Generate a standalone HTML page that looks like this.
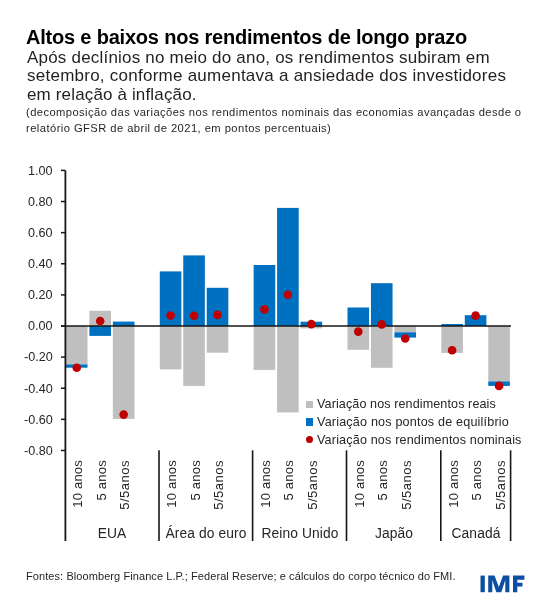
<!DOCTYPE html>
<html><head><meta charset="utf-8"><style>
html,body{margin:0;padding:0;background:#fff;}
body{width:550px;height:602px;position:relative;overflow:hidden;font-family:"Liberation Sans",sans-serif;color:#231f20;}
.t{position:absolute;white-space:nowrap;line-height:1;will-change:transform;}
svg{position:absolute;left:0;top:0;}
</style></head><body>
<div class="t" style="left:26px;top:26.70px;font-size:20px;font-weight:bold;letter-spacing:-0.2px;color:#000;">Altos e baixos nos rendimentos de longo prazo</div>
<div class="t" style="left:26.5px;top:48.55px;font-size:17px;letter-spacing:0.2px;">Após declínios no meio do ano, os rendimentos subiram em</div>
<div class="t" style="left:26.5px;top:66.95px;font-size:17px;letter-spacing:0.25px;">setembro, conforme aumentava a ansiedade dos investidores</div>
<div class="t" style="left:26.5px;top:85.65px;font-size:17px;letter-spacing:0.15px;">em relação à inflação.</div>
<div class="t" style="left:26px;top:107.18px;font-size:11.2px;letter-spacing:0.42px;">(decomposição das variações nos rendimentos nominais das economias avançadas desde o</div>
<div class="t" style="left:26px;top:123.08px;font-size:11.2px;letter-spacing:0.44px;">relatório GFSR de abril de 2021, em pontos percentuais)</div>
<div class="t" style="right:497.7px;top:164.69px;font-size:12.6px;color:#262626">1.00</div>
<div class="t" style="right:497.7px;top:195.81px;font-size:12.6px;color:#262626">0.80</div>
<div class="t" style="right:497.7px;top:226.93px;font-size:12.6px;color:#262626">0.60</div>
<div class="t" style="right:497.7px;top:258.05px;font-size:12.6px;color:#262626">0.40</div>
<div class="t" style="right:497.7px;top:289.17px;font-size:12.6px;color:#262626">0.20</div>
<div class="t" style="right:497.7px;top:320.29px;font-size:12.6px;color:#262626">0.00</div>
<div class="t" style="right:497.7px;top:351.41px;font-size:12.6px;color:#262626">-0.20</div>
<div class="t" style="right:497.7px;top:382.53px;font-size:12.6px;color:#262626">-0.40</div>
<div class="t" style="right:497.7px;top:413.65px;font-size:12.6px;color:#262626">-0.60</div>
<div class="t" style="right:497.7px;top:444.77px;font-size:12.6px;color:#262626">-0.80</div>
<svg width="550" height="602" viewBox="0 0 550 602"><rect x="65.93" y="326.00" width="21.6" height="38.40" fill="#BFBFBF"/><rect x="65.93" y="364.40" width="21.6" height="3.30" fill="#0070C0"/><rect x="89.39" y="310.80" width="21.6" height="15.20" fill="#BFBFBF"/><rect x="89.39" y="326.00" width="21.6" height="9.90" fill="#0070C0"/><rect x="112.86" y="321.60" width="21.6" height="4.40" fill="#0070C0"/><rect x="112.86" y="326.00" width="21.6" height="92.90" fill="#BFBFBF"/><rect x="159.78" y="271.40" width="21.6" height="54.60" fill="#0070C0"/><rect x="159.78" y="326.00" width="21.6" height="43.40" fill="#BFBFBF"/><rect x="183.25" y="255.40" width="21.6" height="70.60" fill="#0070C0"/><rect x="183.25" y="326.00" width="21.6" height="59.90" fill="#BFBFBF"/><rect x="206.71" y="287.80" width="21.6" height="38.20" fill="#0070C0"/><rect x="206.71" y="326.00" width="21.6" height="26.70" fill="#BFBFBF"/><rect x="253.64" y="265.00" width="21.6" height="61.00" fill="#0070C0"/><rect x="253.64" y="326.00" width="21.6" height="43.90" fill="#BFBFBF"/><rect x="277.10" y="207.90" width="21.6" height="118.10" fill="#0070C0"/><rect x="277.10" y="326.00" width="21.6" height="86.40" fill="#BFBFBF"/><rect x="300.56" y="321.70" width="21.6" height="4.30" fill="#0070C0"/><rect x="300.56" y="326.00" width="21.6" height="2.40" fill="#BFBFBF"/><rect x="347.49" y="307.50" width="21.6" height="18.50" fill="#0070C0"/><rect x="347.49" y="326.00" width="21.6" height="23.80" fill="#BFBFBF"/><rect x="370.95" y="283.20" width="21.6" height="42.80" fill="#0070C0"/><rect x="370.95" y="326.00" width="21.6" height="41.80" fill="#BFBFBF"/><rect x="394.41" y="326.00" width="21.6" height="6.30" fill="#BFBFBF"/><rect x="394.41" y="332.30" width="21.6" height="5.30" fill="#0070C0"/><rect x="441.34" y="324.00" width="21.6" height="2.00" fill="#0070C0"/><rect x="441.34" y="326.00" width="21.6" height="26.90" fill="#BFBFBF"/><rect x="464.80" y="315.20" width="21.6" height="10.80" fill="#0070C0"/><rect x="488.27" y="326.00" width="21.6" height="55.40" fill="#BFBFBF"/><rect x="488.27" y="381.40" width="21.6" height="4.50" fill="#0070C0"/><line x1="61" y1="326.0" x2="511" y2="326.0" stroke="#161616" stroke-width="1.6"/><circle cx="76.73" cy="367.70" r="4.3" fill="#C00000"/><circle cx="100.19" cy="321.00" r="4.3" fill="#C00000"/><circle cx="123.66" cy="414.60" r="4.3" fill="#C00000"/><circle cx="170.58" cy="315.50" r="4.3" fill="#C00000"/><circle cx="194.05" cy="315.70" r="4.3" fill="#C00000"/><circle cx="217.51" cy="314.90" r="4.3" fill="#C00000"/><circle cx="264.44" cy="309.40" r="4.3" fill="#C00000"/><circle cx="287.90" cy="294.70" r="4.3" fill="#C00000"/><circle cx="311.36" cy="324.10" r="4.3" fill="#C00000"/><circle cx="358.29" cy="331.60" r="4.3" fill="#C00000"/><circle cx="381.75" cy="324.40" r="4.3" fill="#C00000"/><circle cx="405.21" cy="338.50" r="4.3" fill="#C00000"/><circle cx="452.14" cy="350.30" r="4.3" fill="#C00000"/><circle cx="475.60" cy="315.60" r="4.3" fill="#C00000"/><circle cx="499.07" cy="385.90" r="4.3" fill="#C00000"/><line x1="65.4" y1="170.4" x2="65.4" y2="541" stroke="#161616" stroke-width="1.8"/><line x1="61" y1="170.40" x2="65.4" y2="170.40" stroke="#161616" stroke-width="1.5"/><line x1="61" y1="201.52" x2="65.4" y2="201.52" stroke="#161616" stroke-width="1.5"/><line x1="61" y1="232.64" x2="65.4" y2="232.64" stroke="#161616" stroke-width="1.5"/><line x1="61" y1="263.76" x2="65.4" y2="263.76" stroke="#161616" stroke-width="1.5"/><line x1="61" y1="294.88" x2="65.4" y2="294.88" stroke="#161616" stroke-width="1.5"/><line x1="61" y1="326.00" x2="65.4" y2="326.00" stroke="#161616" stroke-width="1.5"/><line x1="61" y1="357.12" x2="65.4" y2="357.12" stroke="#161616" stroke-width="1.5"/><line x1="61" y1="388.24" x2="65.4" y2="388.24" stroke="#161616" stroke-width="1.5"/><line x1="61" y1="419.36" x2="65.4" y2="419.36" stroke="#161616" stroke-width="1.5"/><line x1="61" y1="450.48" x2="65.4" y2="450.48" stroke="#161616" stroke-width="1.5"/><line x1="159.0" y1="450.3" x2="159.0" y2="541" stroke="#161616" stroke-width="1.6"/><line x1="252.6" y1="450.3" x2="252.6" y2="541" stroke="#161616" stroke-width="1.6"/><line x1="346.5" y1="450.3" x2="346.5" y2="541" stroke="#161616" stroke-width="1.6"/><line x1="440.8" y1="450.3" x2="440.8" y2="541" stroke="#161616" stroke-width="1.6"/><line x1="510.6" y1="450.3" x2="510.6" y2="541" stroke="#161616" stroke-width="1.6"/></svg>
<div class="t" style="left:71px;top:520px;width:60px;height:14px;line-height:14px;text-align:right;font-size:13px;color:#262626;transform:rotate(-90deg);transform-origin:0 0;letter-spacing:0.2px">10 anos</div>
<div class="t" style="left:95px;top:520px;width:60px;height:14px;line-height:14px;text-align:right;font-size:13px;color:#262626;transform:rotate(-90deg);transform-origin:0 0;letter-spacing:0.25px">5 anos</div>
<div class="t" style="left:118px;top:520px;width:60px;height:14px;line-height:14px;text-align:right;font-size:13px;color:#262626;transform:rotate(-90deg);transform-origin:0 0;letter-spacing:0.5px">5/5anos</div>
<div class="t" style="left:165px;top:520px;width:60px;height:14px;line-height:14px;text-align:right;font-size:13px;color:#262626;transform:rotate(-90deg);transform-origin:0 0;letter-spacing:0.2px">10 anos</div>
<div class="t" style="left:189px;top:520px;width:60px;height:14px;line-height:14px;text-align:right;font-size:13px;color:#262626;transform:rotate(-90deg);transform-origin:0 0;letter-spacing:0.25px">5 anos</div>
<div class="t" style="left:212px;top:520px;width:60px;height:14px;line-height:14px;text-align:right;font-size:13px;color:#262626;transform:rotate(-90deg);transform-origin:0 0;letter-spacing:0.5px">5/5anos</div>
<div class="t" style="left:259px;top:520px;width:60px;height:14px;line-height:14px;text-align:right;font-size:13px;color:#262626;transform:rotate(-90deg);transform-origin:0 0;letter-spacing:0.2px">10 anos</div>
<div class="t" style="left:282px;top:520px;width:60px;height:14px;line-height:14px;text-align:right;font-size:13px;color:#262626;transform:rotate(-90deg);transform-origin:0 0;letter-spacing:0.25px">5 anos</div>
<div class="t" style="left:306px;top:520px;width:60px;height:14px;line-height:14px;text-align:right;font-size:13px;color:#262626;transform:rotate(-90deg);transform-origin:0 0;letter-spacing:0.5px">5/5anos</div>
<div class="t" style="left:353px;top:520px;width:60px;height:14px;line-height:14px;text-align:right;font-size:13px;color:#262626;transform:rotate(-90deg);transform-origin:0 0;letter-spacing:0.2px">10 anos</div>
<div class="t" style="left:376px;top:520px;width:60px;height:14px;line-height:14px;text-align:right;font-size:13px;color:#262626;transform:rotate(-90deg);transform-origin:0 0;letter-spacing:0.25px">5 anos</div>
<div class="t" style="left:400px;top:520px;width:60px;height:14px;line-height:14px;text-align:right;font-size:13px;color:#262626;transform:rotate(-90deg);transform-origin:0 0;letter-spacing:0.5px">5/5anos</div>
<div class="t" style="left:447px;top:520px;width:60px;height:14px;line-height:14px;text-align:right;font-size:13px;color:#262626;transform:rotate(-90deg);transform-origin:0 0;letter-spacing:0.2px">10 anos</div>
<div class="t" style="left:470px;top:520px;width:60px;height:14px;line-height:14px;text-align:right;font-size:13px;color:#262626;transform:rotate(-90deg);transform-origin:0 0;letter-spacing:0.25px">5 anos</div>
<div class="t" style="left:494px;top:520px;width:60px;height:14px;line-height:14px;text-align:right;font-size:13px;color:#262626;transform:rotate(-90deg);transform-origin:0 0;letter-spacing:0.5px">5/5anos</div>
<div class="t" style="left:112.00px;top:526.97px;font-size:13.8px;color:#262626;transform:translateX(-50%);letter-spacing:0.1px">EUA</div>
<div class="t" style="left:205.85px;top:526.97px;font-size:13.8px;color:#262626;transform:translateX(-50%);letter-spacing:0.1px">Área do euro</div>
<div class="t" style="left:299.60px;top:526.97px;font-size:13.8px;color:#262626;transform:translateX(-50%);letter-spacing:0.1px">Reino Unido</div>
<div class="t" style="left:393.65px;top:526.97px;font-size:13.8px;color:#262626;transform:translateX(-50%);letter-spacing:0.1px">Japão</div>
<div class="t" style="left:475.80px;top:526.97px;font-size:13.8px;color:#262626;transform:translateX(-50%);letter-spacing:0.1px">Canadá</div>
<div style="position:absolute;left:305.5px;top:400.50px;width:7.8px;height:7.6px;background:#BFBFBF"></div>
<div class="t" style="left:316.6px;top:398.19px;font-size:12.6px;letter-spacing:0.09px;color:#262626;">Variação nos rendimentos reais</div>
<div style="position:absolute;left:305.5px;top:418.10px;width:7.8px;height:7.6px;background:#0070C0"></div>
<div class="t" style="left:316.6px;top:415.79px;font-size:12.6px;letter-spacing:0.18px;color:#262626;">Variação nos pontos de equilíbrio</div>
<div style="position:absolute;left:305.6px;top:435.6px;width:7.8px;height:7.8px;border-radius:50%;background:#C00000"></div>
<div class="t" style="left:316.6px;top:433.69px;font-size:12.6px;letter-spacing:0.16px;color:#262626;">Variação nos rendimentos nominais</div>
<div class="t" style="left:26px;top:570.55px;font-size:11px;letter-spacing:0.08px;">Fontes: Bloomberg Finance L.P.; Federal Reserve; e cálculos do corpo técnico do FMI.</div>
<svg width="550" height="602" style="position:absolute;left:0;top:0"><g fill="#0b4ea2"><rect x="480.5" y="575.6" width="4.3" height="16.6"/><polygon points="488.2,592.2 488.2,575.6 494.5,575.6 498.8,587 503.1,575.6 509.4,575.6 509.4,592.2 505.3,592.2 505.3,580 501.3,592.2 496.3,592.2 492.3,580 492.3,592.2"/><polygon points="513,575.6 524.4,575.6 524.4,579.7 517.3,579.7 517.3,582.7 522.5,582.7 522.5,586.5 517.3,586.5 517.3,592.2 513,592.2"/></g></svg>
</body></html>
